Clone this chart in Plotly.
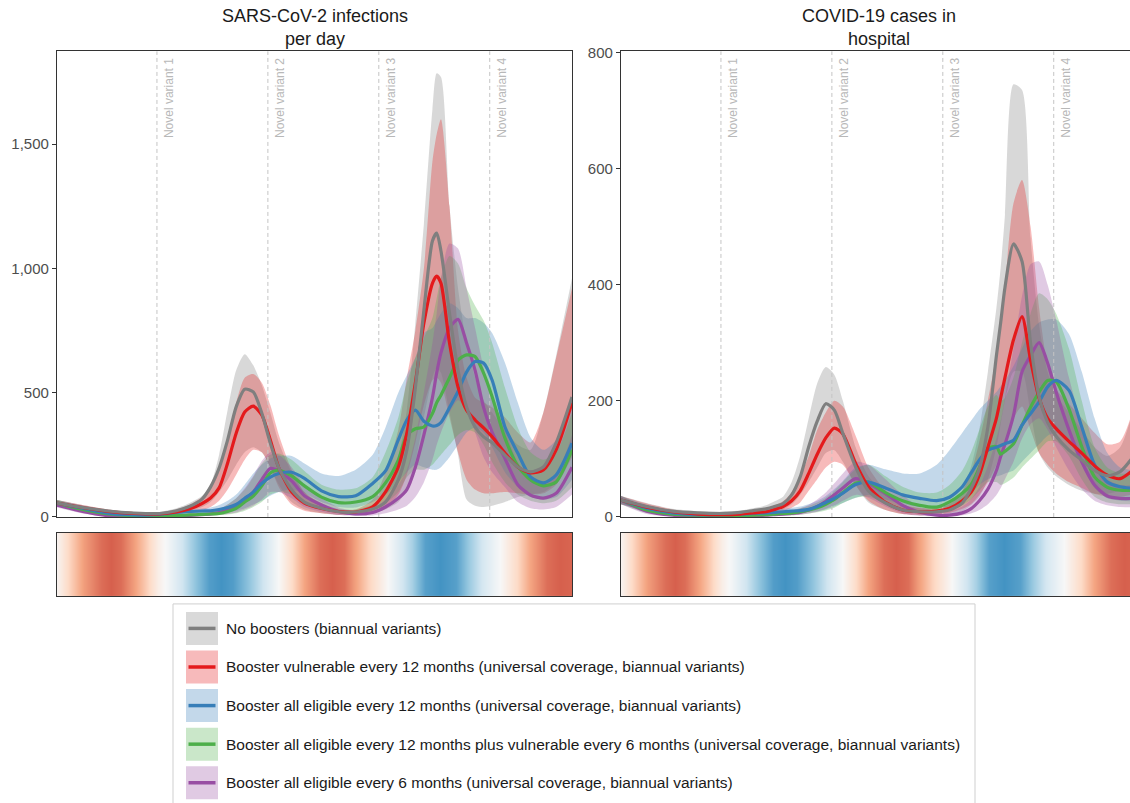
import plotly.graph_objects as go

# ---------------------------------------------------------------- data
# Simulation day for every sample point (shared by all series)
days = [0, 42, 84, 126, 168, 196, 217, 238, 252, 266, 280, 294, 308, 322, 336,
        350, 364, 385, 406, 434, 462, 490, 518, 539, 560, 574, 588, 602, 616,
        623, 630, 644, 658, 672, 686, 700, 714, 735, 756, 777, 798, 819, 845]

variant_days = [164, 346, 528, 710]
variant_labels = ["Novel variant 1", "Novel variant 2", "Novel variant 3", "Novel variant 4"]

scenario_names = [
    "No boosters (biannual variants)",
    "Booster vulnerable every 12 months (universal coverage, biannual variants)",
    "Booster all eligible every 12 months (universal coverage, biannual variants)",
    "Booster all eligible every 12 months plus vulnerable every 6 months (universal coverage, biannual variants)",
    "Booster all eligible every 6 months (universal coverage, biannual variants)",
]
scenario_colors = ["#7f7f7f", "#e41a1c", "#377eb8", "#4daf4a", "#984ea3"]

# SARS-CoV-2 infections per day: median, lower and upper bounds
inf_none_mid = [56, 38, 24, 16, 14, 25, 42, 72, 121, 197, 310, 443, 514, 503, 418, 297, 197, 109, 60, 35, 21, 20, 32, 60, 149, 270, 520, 832, 1110, 1142, 1070, 820, 591, 442, 362, 322, 298, 249, 201, 181, 201, 298, 483]
inf_none_lo = [44, 28, 16, 10, 9, 15, 25, 40, 60, 100, 150, 210, 260, 280, 260, 200, 130, 60, 30, 15, 8, 8, 15, 30, 60, 110, 220, 400, 560, 600, 580, 420, 250, 70, 45, 40, 45, 60, 80, 90, 100, 140, 250]
inf_none_hi = [68, 48, 30, 20, 20, 35, 55, 85, 130, 250, 430, 590, 655, 610, 530, 420, 300, 180, 100, 55, 32, 30, 50, 100, 240, 430, 780, 1180, 1640, 1785, 1770, 1250, 920, 700, 560, 470, 420, 350, 290, 270, 420, 650, 960]

inf_vuln_mid = [56, 38, 22, 14, 12, 20, 32, 54, 76, 117, 217, 337, 422, 446, 410, 310, 197, 101, 56, 34, 22, 20, 41, 101, 201, 337, 540, 780, 940, 969, 940, 700, 523, 430, 390, 358, 322, 257, 201, 177, 189, 270, 460]
inf_vuln_lo = [44, 28, 15, 9, 7, 10, 18, 28, 40, 65, 110, 170, 230, 270, 260, 200, 120, 50, 25, 15, 9, 9, 18, 40, 90, 170, 300, 450, 550, 560, 540, 400, 260, 150, 110, 95, 95, 100, 95, 90, 95, 130, 240]
inf_vuln_hi = [68, 48, 30, 20, 18, 30, 48, 80, 120, 190, 320, 460, 560, 575, 540, 450, 330, 190, 100, 50, 30, 30, 70, 180, 350, 560, 750, 1000, 1430, 1540, 1600, 1250, 750, 560, 480, 460, 440, 400, 340, 300, 420, 640, 920]

inf_all12_mid = [56, 35, 15, 8, 10, 18, 22, 24, 25, 30, 38, 50, 75, 100, 135, 160, 175, 180, 155, 105, 82, 85, 135, 185, 310, 390, 430, 385, 366, 368, 380, 440, 505, 583, 625, 619, 550, 362, 257, 161, 137, 169, 297]
inf_all12_lo = [44, 25, 8, 4, 5, 10, 14, 15, 15, 17, 20, 25, 35, 50, 65, 85, 100, 110, 95, 60, 40, 38, 60, 90, 140, 180, 210, 200, 190, 190, 200, 240, 290, 340, 360, 340, 280, 180, 120, 80, 70, 80, 150]
inf_all12_hi = [68, 46, 24, 14, 15, 25, 30, 34, 38, 48, 65, 90, 130, 175, 210, 235, 245, 245, 215, 175, 165, 190, 250, 360, 500, 570, 640, 740, 760, 790, 820, 860, 840, 800, 800, 780, 740, 620, 460, 320, 270, 310, 470]

inf_mix_mid = [56, 30, 12, 5, 5, 6, 8, 10, 12, 14, 22, 35, 60, 84, 125, 177, 188, 165, 125, 80, 58, 60, 82, 137, 229, 329, 355, 362, 416, 460, 490, 560, 631, 652, 645, 579, 484, 317, 205, 149, 125, 141, 270]
inf_mix_lo = [44, 20, 5, 2, 2, 3, 4, 5, 6, 7, 10, 15, 25, 40, 60, 90, 100, 90, 60, 30, 20, 20, 30, 55, 100, 160, 190, 190, 210, 230, 250, 290, 330, 350, 340, 290, 220, 140, 90, 65, 55, 65, 120]
inf_mix_hi = [68, 40, 20, 10, 10, 12, 16, 20, 24, 30, 50, 75, 110, 160, 215, 250, 255, 230, 185, 130, 110, 115, 160, 260, 400, 540, 640, 720, 800, 880, 960, 1050, 1020, 920, 850, 790, 700, 520, 360, 260, 230, 260, 420]

inf_all6_mid = [48, 22, 5, 2, 3, 4, 6, 9, 12, 18, 28, 42, 70, 100, 150, 195, 185, 145, 85, 48, 22, 12, 18, 40, 75, 110, 200, 330, 480, 580, 660, 760, 795, 700, 590, 440, 340, 235, 130, 88, 76, 95, 200]
inf_all6_lo = [38, 14, 2, 1, 1, 1, 2, 4, 5, 8, 12, 18, 30, 45, 70, 100, 100, 75, 40, 20, 8, 4, 6, 15, 30, 45, 80, 140, 230, 290, 340, 420, 470, 430, 340, 240, 180, 120, 60, 35, 30, 40, 90]
inf_all6_hi = [62, 32, 10, 5, 6, 8, 11, 16, 22, 32, 50, 75, 115, 165, 225, 260, 250, 200, 130, 75, 38, 25, 35, 70, 130, 190, 320, 500, 700, 820, 960, 1100, 1080, 920, 760, 600, 480, 350, 220, 160, 140, 170, 330]

# COVID-19 cases in hospital: median, lower and upper bounds
hosp_none_mid = [29, 18, 10, 7, 6, 8, 11, 14, 18, 23, 38, 69, 121, 165, 195, 184, 144, 86, 45, 24, 12, 9, 9, 12, 24, 48, 83, 155, 278, 335, 395, 470, 440, 299, 207, 163, 139, 115, 98, 80, 71, 78, 110]
hosp_none_lo = [22, 12, 6, 4, 3, 4, 6, 8, 10, 13, 22, 38, 60, 85, 110, 115, 95, 55, 25, 12, 5, 3, 3, 5, 10, 20, 35, 65, 120, 160, 200, 250, 250, 180, 110, 85, 70, 55, 45, 40, 40, 45, 55]
hosp_none_hi = [36, 24, 14, 10, 9, 11, 15, 20, 27, 35, 60, 105, 170, 230, 258, 245, 200, 120, 70, 40, 22, 16, 16, 22, 45, 85, 150, 250, 360, 430, 520, 745, 735, 480, 330, 250, 210, 180, 150, 120, 105, 120, 200]

hosp_vuln_mid = [29, 17, 9, 5, 4, 5, 7, 9, 13, 18, 28, 45, 75, 108, 136, 153, 143, 92, 52, 25, 12, 9, 10, 15, 28, 42, 72, 120, 170, 205, 240, 305, 345, 270, 205, 170, 152, 130, 110, 88, 72, 66, 85]
hosp_vuln_lo = [22, 12, 6, 3, 2, 3, 4, 5, 7, 10, 16, 25, 45, 65, 85, 95, 90, 55, 28, 12, 5, 3, 4, 7, 14, 22, 38, 60, 90, 110, 130, 170, 190, 150, 110, 90, 75, 60, 50, 40, 35, 35, 40]
hosp_vuln_hi = [36, 23, 13, 8, 7, 8, 11, 15, 20, 27, 42, 70, 105, 150, 180, 200, 190, 140, 85, 45, 22, 15, 16, 24, 45, 75, 130, 200, 280, 340, 400, 540, 580, 500, 360, 260, 220, 195, 170, 145, 125, 130, 200]

hosp_all12_mid = [29, 15, 7, 4, 4, 5, 6, 7, 8, 9, 10, 11, 13, 18, 25, 32, 41, 56, 60, 50, 38, 32, 28, 34, 52, 75, 98, 115, 120, 123, 126, 132, 158, 178, 198, 224, 235, 218, 155, 90, 60, 52, 49]
hosp_all12_lo = [22, 10, 4, 2, 2, 3, 3, 4, 4, 5, 5, 6, 8, 10, 13, 18, 24, 33, 38, 30, 22, 17, 15, 18, 28, 40, 55, 65, 70, 72, 75, 80, 95, 110, 125, 140, 145, 130, 90, 50, 32, 28, 27]
hosp_all12_hi = [36, 21, 11, 7, 7, 8, 9, 11, 12, 14, 16, 18, 22, 28, 36, 48, 62, 85, 90, 82, 75, 75, 90, 115, 145, 165, 185, 200, 215, 225, 235, 260, 290, 320, 335, 340, 340, 315, 250, 170, 110, 85, 80]

hosp_mix_mid = [29, 12, 5, 3, 2, 2, 3, 4, 5, 6, 7, 9, 12, 16, 22, 30, 42, 58, 60, 42, 28, 20, 17, 26, 41, 55, 85, 118, 121, 108, 113, 126, 158, 189, 215, 235, 233, 186, 121, 69, 51, 46, 46]
hosp_mix_lo = [22, 7, 2, 1, 1, 1, 1, 2, 2, 3, 3, 4, 6, 8, 11, 16, 24, 33, 35, 24, 14, 10, 9, 12, 20, 30, 45, 60, 60, 55, 58, 68, 85, 100, 115, 130, 130, 105, 65, 35, 25, 22, 22]
hosp_mix_hi = [36, 18, 9, 6, 5, 5, 6, 7, 8, 10, 12, 15, 19, 25, 33, 45, 60, 82, 90, 70, 52, 42, 42, 55, 80, 110, 150, 190, 210, 200, 205, 240, 300, 350, 385, 375, 350, 290, 200, 120, 85, 75, 75]

hosp_all6_mid = [29, 10, 3, 1, 1, 1, 2, 3, 4, 5, 6, 8, 12, 18, 27, 38, 50, 66, 58, 40, 20, 8, 3, 3, 7, 14, 28, 48, 80, 104, 125, 175, 250, 278, 300, 265, 215, 150, 95, 55, 36, 32, 32]
hosp_all6_lo = [22, 5, 1, 0, 0, 0, 1, 1, 2, 2, 3, 4, 6, 9, 14, 20, 28, 38, 33, 18, 6, 2, 1, 1, 3, 6, 12, 22, 38, 50, 65, 95, 135, 160, 170, 150, 120, 80, 48, 28, 20, 17, 17]
hosp_all6_hi = [36, 16, 6, 3, 3, 3, 4, 6, 8, 10, 12, 15, 21, 30, 42, 58, 75, 95, 90, 65, 38, 18, 10, 10, 18, 30, 52, 88, 135, 165, 205, 290, 380, 435, 440, 400, 340, 240, 160, 95, 65, 55, 55]

# Seasonal forcing (relative, -1 = low season, 1 = high season)
season_days = [0, 21, 44, 72, 89, 105, 121, 144, 166, 182, 205, 226, 249, 269, 289,
               315, 338, 359, 382, 405, 431, 451, 471, 487, 510, 538, 559, 582, 604,
               628, 655, 676, 699, 727, 755, 776, 804, 825, 845]
season_vals = [0.05, 0.35, 0.65, 0.92, 1.0, 0.92, 0.7, 0.4, 0.1, -0.05, -0.3, -0.6,
               -0.92, -1.0, -0.92, -0.6, -0.3, -0.05, 0.25, 0.6, 0.92, 1.0, 0.92, 0.65,
               0.35, 0.05, -0.2, -0.5, -0.9, -1.0, -0.9, -0.55, -0.25, 0.0, 0.3, 0.6,
               0.92, 1.0, 0.97]

infections = [(inf_none_lo, inf_none_mid, inf_none_hi),
              (inf_vuln_lo, inf_vuln_mid, inf_vuln_hi),
              (inf_all12_lo, inf_all12_mid, inf_all12_hi),
              (inf_mix_lo, inf_mix_mid, inf_mix_hi),
              (inf_all6_lo, inf_all6_mid, inf_all6_hi)]
hospital = [(hosp_none_lo, hosp_none_mid, hosp_none_hi),
            (hosp_vuln_lo, hosp_vuln_mid, hosp_vuln_hi),
            (hosp_all12_lo, hosp_all12_mid, hosp_all12_hi),
            (hosp_mix_lo, hosp_mix_mid, hosp_mix_hi),
            (hosp_all6_lo, hosp_all6_mid, hosp_all6_hi)]

# ---------------------------------------------------------------- layout helpers
W, H = 1130, 803
FONT = "Liberation Sans, Arial, sans-serif"
PX_PER_DAY = 515 / 845
# vertical placement is given in screen pixels; the page is shown slightly
# squeezed vertically (8 px top offset, 803/819 scale), so map back to paper
V_OFF, V_SCALE = 7.84, 803 / 819


def fx(p):
    return p / W


def fy(p):
    return 1 - ((p - V_OFF) / V_SCALE) / H


def rgba(hex_color, a):
    h = hex_color.lstrip("#")
    r, g, b = int(h[0:2], 16), int(h[2:4], 16), int(h[4:6], 16)
    return f"rgba({r},{g},{b},{a})"


def tint(hex_color, a):
    # colour of a translucent fill laid over white
    h = hex_color.lstrip("#")
    r, g, b = (int(h[i:i + 2], 16) for i in (0, 2, 4))
    mix = lambda c: round(a * c + (1 - a) * 255)
    return f"rgb({mix(r)},{mix(g)},{mix(b)})"


fig = go.Figure()

panels = [
    dict(data=infections, xa="x", ya="y", ymax=1874),
    dict(data=hospital, xa="x2", ya="y2", ymax=802),
]

for pan in panels:
    order = list(range(len(scenario_names)))
    # uncertainty ribbons
    for i in order:
        lo, mid, hi = pan["data"][i]
        col = scenario_colors[i]
        fig.add_trace(go.Scatter(x=days, y=lo, mode="lines", line=dict(width=0, shape="spline", smoothing=0.7),
                                 xaxis=pan["xa"], yaxis=pan["ya"], showlegend=False, hoverinfo="skip"))
        fig.add_trace(go.Scatter(x=days, y=hi, mode="lines", line=dict(width=0, shape="spline", smoothing=0.7),
                                 fill="tonexty", fillcolor=rgba(col, 0.3),
                                 xaxis=pan["xa"], yaxis=pan["ya"], showlegend=False, hoverinfo="skip"))
    # variant emergence markers
    for vd in variant_days:
        fig.add_trace(go.Scatter(x=[vd, vd], y=[0, pan["ymax"]], mode="lines",
                                 line=dict(color="#c4c4c4", width=1, dash="4px,3px"),
                                 xaxis=pan["xa"], yaxis=pan["ya"], showlegend=False, hoverinfo="skip"))
    # medians
    for i in reversed(order):
        lo, mid, hi = pan["data"][i]
        fig.add_trace(go.Scatter(x=days, y=mid, mode="lines",
                                 line=dict(color=scenario_colors[i], width=3.2, shape="spline", smoothing=0.7),
                                 xaxis=pan["xa"], yaxis=pan["ya"], showlegend=False, name=scenario_names[i]))

# seasonality strips
colorscale = [[0.0, "#4393c3"], [0.2, "#92c5de"], [0.35, "#d1e5f0"], [0.5, "#f7f7f7"],
              [0.65, "#fddbc7"], [0.8, "#f4a582"], [1.0, "#d6604d"]]
for xa, ya in (("x3", "y3"), ("x4", "y4")):
    fig.add_trace(go.Heatmap(x=season_days, y=[0, 1], z=[season_vals, season_vals],
                             colorscale=colorscale, zmin=-1, zmax=1, zsmooth="best",
                             showscale=False, hoverinfo="skip", xaxis=xa, yaxis=ya))

main_dom = [fy(517), fy(51)]
strip_dom = [fy(596), fy(533)]
left_dom = [fx(57), fx(572)]
right_dom = [fx(621), 1.0]
right_max = (W - 621) / PX_PER_DAY

frame = dict(showline=True, linecolor="#333333", linewidth=1.3, showgrid=False, zeroline=False)
xcommon = dict(frame, showticklabels=False, ticks="")
ycommon = dict(frame, ticks="outside", ticklen=4, tickcolor="#333333", tickwidth=1,
               tickfont=dict(family=FONT, size=15, color="#4d4d4d"), tickformat=",")

fig.update_layout(
    width=W, height=H,
    margin=dict(l=0, r=0, t=0, b=0),
    paper_bgcolor="white", plot_bgcolor="white",
    showlegend=False,
    font=dict(family=FONT),
    xaxis=dict(xcommon, domain=left_dom, range=[0, 845], mirror=True, anchor="y"),
    yaxis=dict(ycommon, domain=main_dom, range=[0, 1874], tickvals=[0, 500, 1000, 1500], mirror=True, anchor="x"),
    xaxis2=dict(xcommon, domain=right_dom, range=[0, right_max], mirror=True, anchor="y2"),
    yaxis2=dict(ycommon, domain=main_dom, range=[0, 802], tickvals=[0, 200, 400, 600, 800], mirror=False, anchor="x2"),
    xaxis3=dict(xcommon, domain=left_dom, range=[0, 845], mirror=True, anchor="y3"),
    yaxis3=dict(xcommon, domain=strip_dom, range=[0, 1], mirror=True, anchor="x3"),
    xaxis4=dict(xcommon, domain=right_dom, range=[0, right_max], mirror=True, anchor="y4"),
    yaxis4=dict(xcommon, domain=strip_dom, range=[0, 1], mirror=False, anchor="x4"),
)

annotations = []
# panel titles
for text, dom in (("SARS-CoV-2 infections<br>per day", left_dom),
                  ("COVID-19 cases in<br>hospital", [fx(621), fx(1136)])):
    annotations.append(dict(text=text, x=(dom[0] + dom[1]) / 2, y=fy(27.5), xref="paper", yref="paper",
                            xanchor="center", yanchor="middle", showarrow=False,
                            font=dict(family=FONT, size=18, color="#1a1a1a")))
# variant labels
for xa in ("x", "x2"):
    for vd, lab in zip(variant_days, variant_labels):
        annotations.append(dict(text=lab, x=vd, y=1, xref=xa, yref=f"{'y' if xa == 'x' else 'y2'} domain",
                                xanchor="left", yanchor="top", xshift=3, yshift=-5, textangle=-90,
                                showarrow=False, font=dict(family=FONT, size=12, color="#b8b8b8")))

shapes = []
# legend box
shapes.append(dict(type="rect", xref="paper", yref="paper", x0=fx(173), x1=fx(975), y0=fy(840), y1=fy(604),
                   line=dict(color="#cfcfcf", width=1), fillcolor="white", layer="below"))
for i, (name, col) in enumerate(zip(scenario_names, scenario_colors)):
    cy = 628.5 + 38.6 * i
    shapes.append(dict(type="rect", xref="paper", yref="paper", x0=fx(186), x1=fx(218),
                       y0=fy(cy + 16.5), y1=fy(cy - 16.5), line=dict(width=0), fillcolor=tint(col, 0.3)))
    shapes.append(dict(type="line", xref="paper", yref="paper", x0=fx(188.5), x1=fx(215.5),
                       y0=fy(cy), y1=fy(cy), line=dict(color=col, width=3.5)))
    annotations.append(dict(text=name, x=fx(224), y=fy(cy), xref="paper", yref="paper",
                            xanchor="left", yanchor="middle", showarrow=False,
                            font=dict(family=FONT, size=15.5, color="#1a1a1a")))

fig.update_layout(annotations=annotations, shapes=shapes)
fig.write_html("out.html")
